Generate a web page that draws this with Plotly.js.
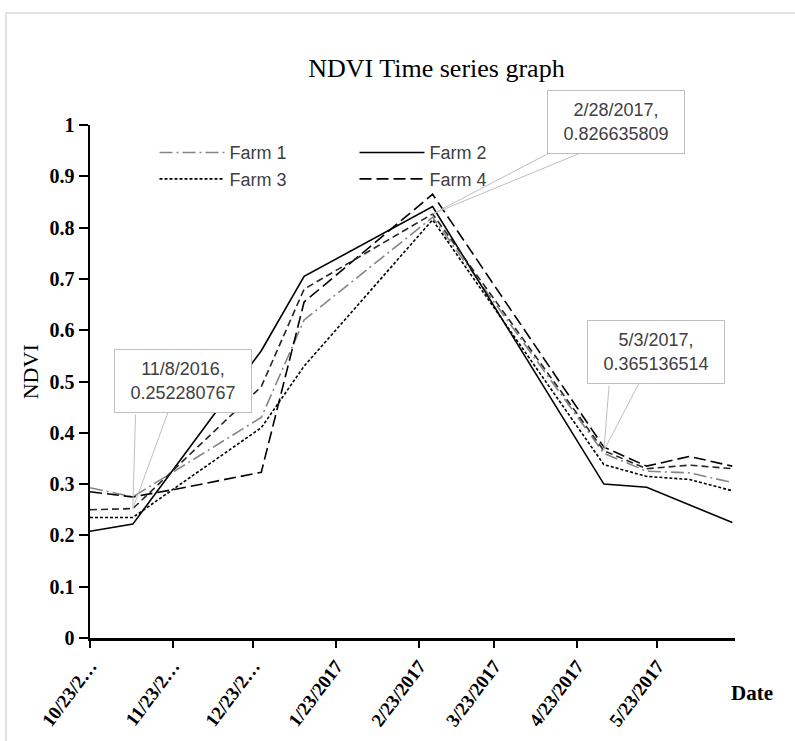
<!DOCTYPE html>
<html><head><meta charset="utf-8">
<script src="https://cdn.plot.ly/plotly-3.0.1.min.js"></script>
<style>html,body{margin:0;padding:0;background:#fff}#chart{width:795px;height:741px}</style>
</head><body><div id="chart"></div>
<script>
// ---- data ----
const dates = ['2016-10-23','2016-11-08','2016-12-26','2017-01-11','2017-02-28','2017-05-03','2017-05-19','2017-06-04','2017-06-20'];
const farm4Dates = ['2016-10-23','2016-11-08','2016-11-24','2016-12-26','2017-01-11','2017-02-28','2017-05-03','2017-05-19','2017-06-04','2017-06-20'];
const farm1 = [0.293,0.275,0.43,0.62,0.82,0.36,0.325,0.322,0.303];
const farm2 = [0.208,0.222,0.56,0.705,0.841,0.30,0.294,0.26,0.225];
const farm3 = [0.235,0.235,0.41,0.53,0.815,0.338,0.315,0.309,0.287];
const farm4 = [0.285,0.275,0.29,0.323,0.655,0.865,0.372,0.335,0.354,0.335];
const series5 = [0.25,0.252280767,0.49,0.68,0.826635809,0.365136514,0.33,0.337,0.33];

const tickDates = ['2016-10-23','2016-11-23','2016-12-23','2017-01-23','2017-02-23','2017-03-23','2017-04-23','2017-05-23'];
const tickLabels = ['10/23/2…','11/23/2…','12/23/2…','1/23/2017','2/23/2017','3/23/2017','4/23/2017','5/23/2017'];

const calloutIdx = [1, 4, 5];
const calloutDateLabels = ['11/8/2016','2/28/2017','5/3/2017'];

// ---- styling (pixel offsets of callout boxes & wedge bases) ----
const boxOffsets = [[50,-128],[183,-92],[52,-99]];
const wedgeOffsets = [[[3,-104],[38,-104]],[[134,-70],[170,-70]],[[6,-75],[39,-75]]];

const serif = 'Liberation Serif';
const sans = 'Liberation Sans';

const traces = [
  {x: dates, y: farm1, name: 'Farm 1', legend: 'legend', mode: 'lines', line: {color: '#858585', width: 1.6, dash: '13px,4px,2px,4px'}},
  {x: dates, y: farm2, name: 'Farm 2', legend: 'legend2', mode: 'lines', line: {color: '#000', width: 1.6}},
  {x: dates, y: farm3, name: 'Farm 3', legend: 'legend', mode: 'lines', line: {color: '#000', width: 1.6, dash: '3px,2px'}},
  {x: farm4Dates, y: farm4, name: 'Farm 4', legend: 'legend2', mode: 'lines', line: {color: '#000', width: 1.6, dash: '12px,5px'}},
  {x: dates, y: series5, name: 'Series 5', mode: 'lines', showlegend: false, line: {color: '#262626', width: 1.6, dash: '7px,4px'}}
];

const annotations = [];
calloutIdx.forEach((idx, k) => {
  wedgeOffsets[k].forEach(o => {
    annotations.push({x: dates[idx], y: series5[idx], xref: 'x', yref: 'y', showarrow: true,
      arrowhead: 0, arrowwidth: 1, arrowcolor: '#bfbfbf', ax: o[0], ay: o[1], standoff: 0});
  });
});
calloutIdx.forEach((idx, k) => {
  annotations.push({x: dates[idx], y: series5[idx], xref: 'x', yref: 'y', showarrow: false,
    xshift: boxOffsets[k][0], yshift: -boxOffsets[k][1], xanchor: 'center', yanchor: 'middle',
    text: calloutDateLabels[k] + ',<br>' + series5[idx],
    font: {family: sans, size: 18, color: '#404040'},
    bgcolor: '#fff', bordercolor: '#bfbfbf', borderwidth: 1, borderpad: 4, width: 128, height: 54});
});
annotations.push({xref: 'paper', yref: 'paper', x: 1.026, y: -0.107, xanchor: 'center', yanchor: 'middle', showarrow: false,
  text: 'Date', font: {family: serif, size: 21, weight: 'bold', color: '#000'}});
annotations.push({xref: 'paper', yref: 'paper', x: -0.093, y: 0.518, xanchor: 'center', yanchor: 'middle', showarrow: false, textangle: -90,
  text: 'NDVI', font: {family: serif, size: 22, color: '#000'}});

const legendBase = {x: 0.1, y: 0.982, xanchor: 'left', yanchor: 'top', orientation: 'v', itemwidth: 65,
  bgcolor: 'rgba(0,0,0,0)', font: {family: sans, size: 18, color: '#404040'}, traceorder: 'normal'};

const layout = {
  width: 795, height: 741, autosize: false,
  margin: {l: 90, r: 60, t: 125, b: 103},
  paper_bgcolor: '#fff', plot_bgcolor: '#fff',
  title: {text: 'NDVI Time series graph', x: 0.549, xref: 'container', y: 0.909, yref: 'container',
    xanchor: 'center', yanchor: 'middle', font: {family: serif, size: 26, color: '#000'}},
  xaxis: {type: 'date', range: ['2016-10-23', '2017-06-21'], tickvals: tickDates, ticktext: tickLabels,
    tickangle: -53, ticks: 'outside', ticklen: 7, tickwidth: 2, tickcolor: '#000',
    showline: true, linewidth: 2.5, linecolor: '#000', showgrid: false, zeroline: false,
    tickfont: {family: serif, size: 19, weight: 'bold', color: '#000'}},
  yaxis: {range: [0, 1], tick0: 0, dtick: 0.1, ticks: 'outside', ticklen: 9, tickwidth: 2, tickcolor: '#000',
    showline: true, linewidth: 2.5, linecolor: '#000', showgrid: false, zeroline: false,
    tickfont: {family: serif, size: 20, weight: 'bold', color: '#000'}},
  legend: Object.assign({}, legendBase),
  legend2: Object.assign({}, legendBase, {x: 0.1 + 200 / 645}),
  shapes: [{type: 'rect', xref: 'paper', yref: 'paper', x0: -0.1302, x1: 1.4, y0: -0.6, y1: 1.2183,
    line: {color: '#d9d9d9', width: 1.5}, layer: 'below'}],
  annotations: annotations,
  showlegend: true
};

Plotly.newPlot('chart', traces, layout, {displayModeBar: false, staticPlot: true});
</script></body></html>
